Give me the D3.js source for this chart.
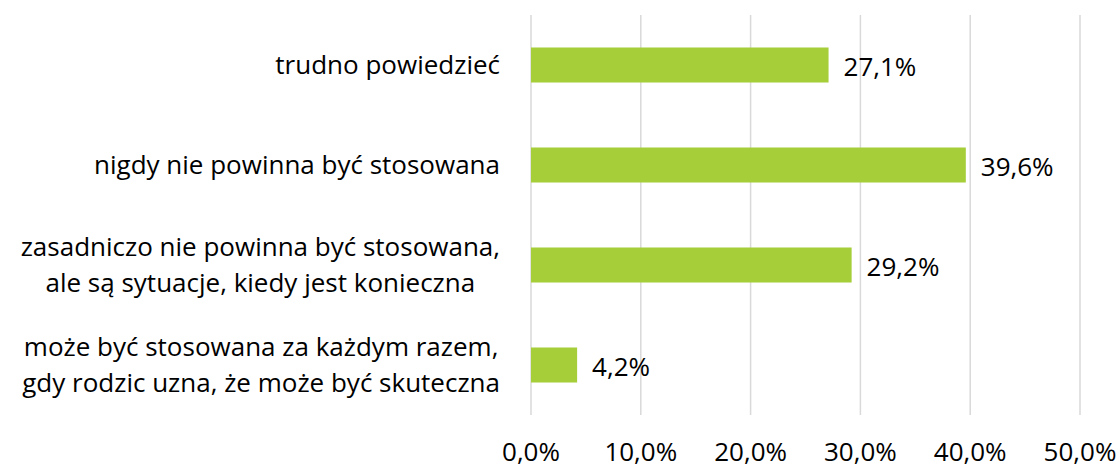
<!DOCTYPE html>
<html>
<head>
<meta charset="utf-8">
<script src="https://cdn.jsdelivr.net/npm/d3@7"></script>
<style>
  html, body { margin: 0; padding: 0; background: #fff; }
  text { font-family: "Open Sans", "Noto Sans", sans-serif; fill: #000; }
</style>
</head>
<body>
<script>
const width = 1120;
const height = 468;

// categories, top to bottom (each entry = lines of the label)
const categories = [
    ["trudno powiedzieć"],
    ["nigdy nie powinna być stosowana"],
    ["zasadniczo nie powinna być stosowana,", "ale są sytuacje, kiedy jest konieczna"],
    ["może być stosowana za każdym razem,", "gdy rodzic uzna, że może być skuteczna"]
];
const values = [27.1, 39.6, 29.2, 4.2];
const ticks = [0, 10, 20, 30, 40, 50];

const fontSize = 26;
const margin = { top: 15, right: 40, bottom: 55, left: 531 };

let svg = d3.select("body").append("svg")
    .attr("width", width)
    .attr("height", height)

let x = d3.scaleLinear()
    .domain([0, 50])
    .range([margin.left, margin.left + 549]);

let y = d3.scaleBand()
    .domain(d3.range(categories.length))
    .range([margin.top, height - margin.bottom + 2])
    .paddingInner(0.65)
    .paddingOuter(0.325);

// gridlines
svg.append("g")
    .selectAll("line")
    .data(ticks)
    .enter()
    .append("line")
    .attr("x1", d => x(d))
    .attr("x2", d => x(d))
    .attr("y1", margin.top)
    .attr("y2", height - margin.bottom + 2)
    .attr("stroke", "#d9d9d9")
    .attr("stroke-width", 1.5)

// tick labels
svg.append("g")
    .selectAll("text")
    .data(ticks)
    .enter()
    .append("text")
    .attr("x", d => x(d))
    .attr("y", 461)
    .attr("text-anchor", "middle")
    .attr("font-size", fontSize)
    .text(d => d.toFixed(1).replace(".", ",") + "%")

// bars
svg.append("g")
    .selectAll("rect")
    .data(values)
    .enter()
    .append("rect")
    .attr("x", x(0))
    .attr("y", (d, i) => y(i))
    .attr("width", d => x(d) - x(0))
    .attr("height", y.bandwidth())
    .attr("fill", "#a6ce39")

// value labels
svg.append("g")
    .selectAll("text")
    .data(values)
    .enter()
    .append("text")
    .attr("x", d => x(d) + 15)
    .attr("y", (d, i) => y(i) + y.bandwidth() / 2 + 2)
    .attr("dy", "0.35em")
    .attr("font-size", fontSize)
    .text(d => d.toFixed(1).replace(".", ",") + "%")

// category labels: block right-aligned, lines centered inside the block
const labelRight = 500;
const lineH = 35.5;
categories.forEach(function (lines, i) {
    let g = svg.append("g");
    let texts = lines.map(function (l, j) {
        return g.append("text")
            .attr("font-size", fontSize)
            .attr("text-anchor", "middle")
            .attr("dy", "0.35em")
            .attr("y", y(i) + y.bandwidth() / 2 + (j - (lines.length - 1) / 2) * lineH)
            .text(l)
    });
    let maxW = d3.max(texts, t => t.node().getComputedTextLength());
    texts.forEach(t => t.attr("x", labelRight - maxW / 2));
});
</script>
</body>
</html>
